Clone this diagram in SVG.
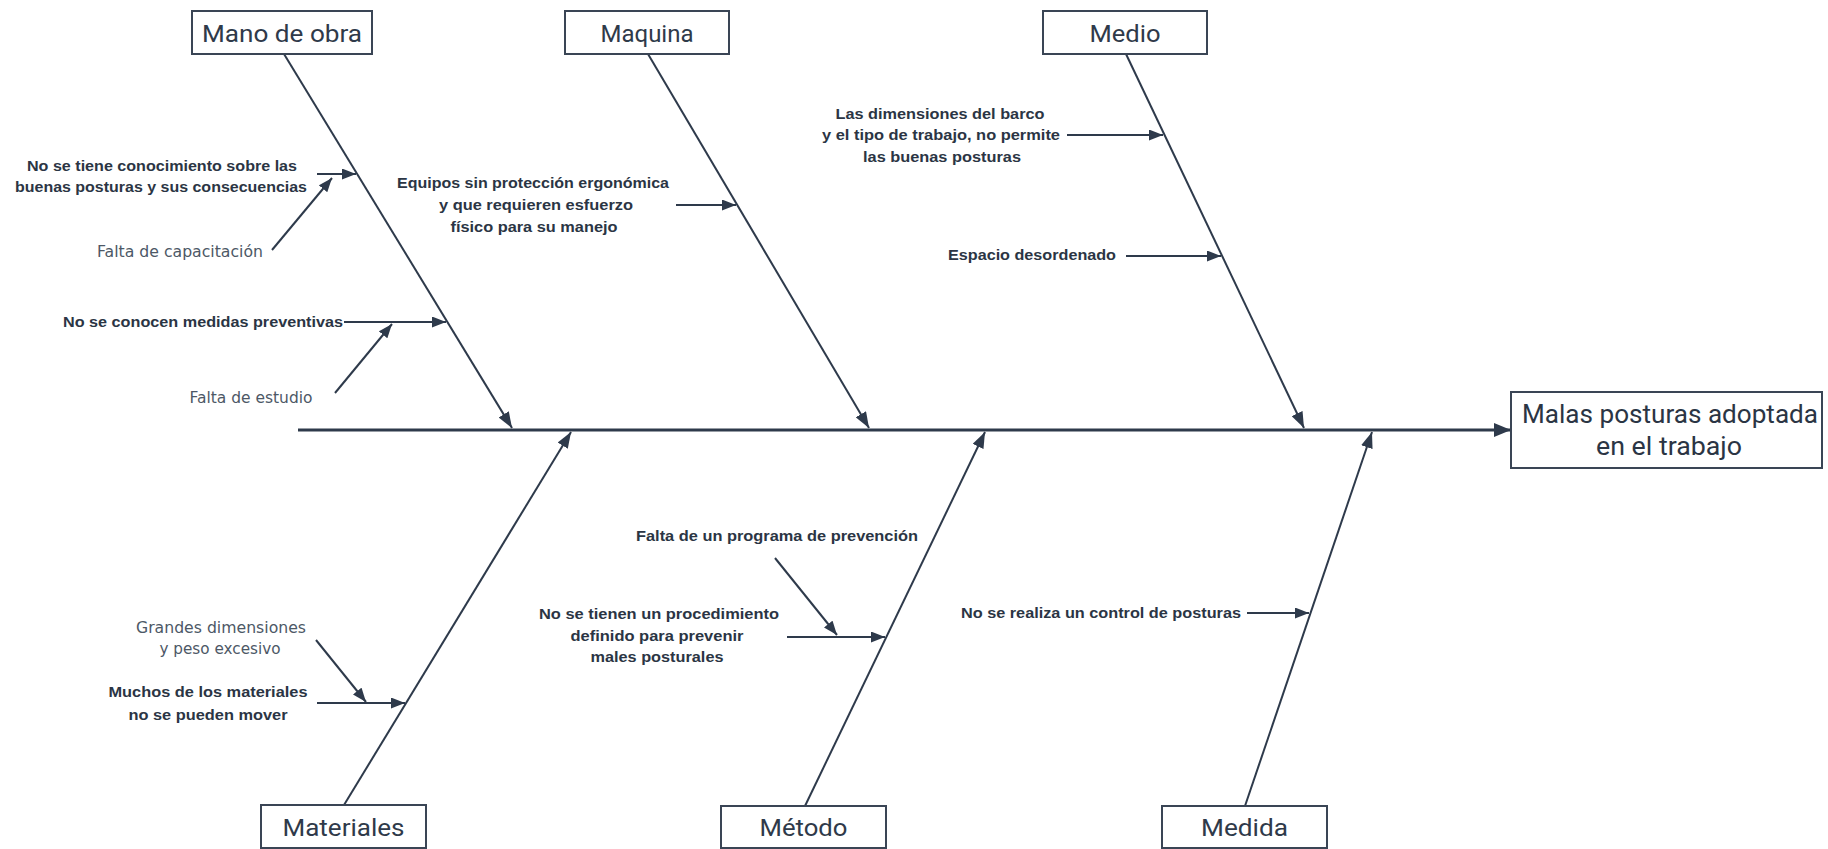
<svg xmlns="http://www.w3.org/2000/svg" width="1828" height="849" viewBox="0 0 1828 849">
  <defs>
    <marker id="headBig" markerUnits="userSpaceOnUse" markerWidth="17" markerHeight="14" viewBox="0 0 17 14" refX="17" refY="7" orient="auto">
      <path d="M0,0 L17,7 L0,14 z" fill="#2e3a4b"/>
    </marker>
    <marker id="headMid" markerUnits="userSpaceOnUse" markerWidth="16" markerHeight="12" viewBox="0 0 16 12" refX="16" refY="6" orient="auto">
      <path d="M0,0 L16,6 L0,12 z" fill="#2e3a4b"/>
    </marker>
    <marker id="headSmall" markerUnits="userSpaceOnUse" markerWidth="14" markerHeight="11" viewBox="0 0 14 11" refX="14" refY="5.5" orient="auto">
      <path d="M0,0 L14,5.5 L0,11 z" fill="#2e3a4b"/>
    </marker>
  </defs>
  <style>
    .box { fill: #ffffff; stroke: #3a4555; stroke-width: 2; }
    .title { font-family: Roboto, "Liberation Sans", sans-serif; font-size: 24px; fill: #2f3a4a; text-anchor: middle; }
    .effect { font-family: Roboto, "Liberation Sans", sans-serif; font-size: 25px; fill: #2b3544; text-anchor: middle; }
    .cause { font-family: "Liberation Sans", Arial, sans-serif; font-size: 15px; font-weight: bold; fill: #2b3544; text-anchor: middle; }
    .sub { font-family: "DejaVu Sans", "Liberation Sans", sans-serif; font-size: 15px; fill: #4d5866; text-anchor: middle; }
    .spine { stroke: #2e3a4b; stroke-width: 3; fill: none; }
    .bone { stroke: #2e3a4b; stroke-width: 2; fill: none; }
    .twig { stroke: #2e3a4b; stroke-width: 2; fill: none; }
  </style>

  <rect width="1828" height="849" fill="#ffffff"/>

  <!-- connectors: spine, category bones and cause arrows -->
  <g id="connectors">
    <line class="spine" x1="298" y1="430" x2="1511" y2="430" marker-end="url(#headBig)"/>

    <line class="bone" x1="284" y1="54" x2="512" y2="428" marker-end="url(#headMid)"/>
    <line class="bone" x1="648" y1="54" x2="869" y2="428" marker-end="url(#headMid)"/>
    <line class="bone" x1="1126" y1="54" x2="1304" y2="428" marker-end="url(#headMid)"/>
    <line class="bone" x1="344" y1="805" x2="571" y2="432" marker-end="url(#headMid)"/>
    <line class="bone" x1="805" y1="806" x2="985" y2="432" marker-end="url(#headMid)"/>
    <line class="bone" x1="1245" y1="806" x2="1372" y2="432" marker-end="url(#headMid)"/>

    <line class="twig" x1="317" y1="174" x2="356" y2="174" marker-end="url(#headSmall)"/>
    <line class="twig" x1="272" y1="250" x2="332" y2="178" marker-end="url(#headSmall)"/>
    <line class="twig" x1="344" y1="322" x2="446" y2="322" marker-end="url(#headSmall)"/>
    <line class="twig" x1="335" y1="393" x2="392" y2="324" marker-end="url(#headSmall)"/>

    <line class="twig" x1="676" y1="205" x2="736" y2="205" marker-end="url(#headSmall)"/>

    <line class="twig" x1="1067" y1="135" x2="1163" y2="135" marker-end="url(#headSmall)"/>
    <line class="twig" x1="1126" y1="256" x2="1221" y2="256" marker-end="url(#headSmall)"/>

    <line class="twig" x1="317" y1="703" x2="405" y2="703" marker-end="url(#headSmall)"/>
    <line class="twig" x1="316" y1="640" x2="366" y2="702" marker-end="url(#headSmall)"/>

    <line class="twig" x1="787" y1="637" x2="885" y2="637" marker-end="url(#headSmall)"/>
    <line class="twig" x1="775" y1="558" x2="837" y2="635" marker-end="url(#headSmall)"/>

    <line class="twig" x1="1247" y1="613" x2="1309" y2="613" marker-end="url(#headSmall)"/>
  </g>

  <!-- effect -->
  <g id="effect">
    <rect class="box" x="1511" y="392" width="311" height="76"/>
    <text class="effect" x="1670" y="423" textLength="296" lengthAdjust="spacingAndGlyphs">Malas posturas adoptada</text>
    <text class="effect" x="1669" y="455" textLength="146" lengthAdjust="spacingAndGlyphs">en el trabajo</text>
  </g>

  <!-- category headers -->
  <g id="cat-mano-de-obra">
    <rect class="box" x="192" y="11" width="180" height="43"/>
    <text class="title" x="282" y="42" textLength="160" lengthAdjust="spacingAndGlyphs">Mano de obra</text>
  </g>
  <g id="cat-maquina">
    <rect class="box" x="565" y="11" width="164" height="43"/>
    <text class="title" x="647" y="42">Maquina</text>
  </g>
  <g id="cat-medio">
    <rect class="box" x="1043" y="11" width="164" height="43"/>
    <text class="title" x="1125" y="42" textLength="71" lengthAdjust="spacingAndGlyphs">Medio</text>
  </g>
  <g id="cat-materiales">
    <rect class="box" x="261" y="805" width="165" height="43"/>
    <text class="title" x="343.5" y="836" textLength="122" lengthAdjust="spacingAndGlyphs">Materiales</text>
  </g>
  <g id="cat-metodo">
    <rect class="box" x="721" y="806" width="165" height="42"/>
    <text class="title" x="803.5" y="836" textLength="88" lengthAdjust="spacingAndGlyphs">Método</text>
  </g>
  <g id="cat-medida">
    <rect class="box" x="1162" y="806" width="165" height="42"/>
    <text class="title" x="1244.5" y="836" textLength="87" lengthAdjust="spacingAndGlyphs">Medida</text>
  </g>

  <!-- causes: Mano de obra -->
  <g id="cause-conocimiento">
    <text class="cause" x="162" y="171" textLength="270" lengthAdjust="spacingAndGlyphs">No se tiene conocimiento sobre las</text>
    <text class="cause" x="161" y="192" textLength="292" lengthAdjust="spacingAndGlyphs">buenas posturas y sus consecuencias</text>
  </g>
  <g id="cause-capacitacion">
    <text class="sub" x="180" y="257" textLength="166" lengthAdjust="spacingAndGlyphs">Falta de capacitación</text>
  </g>
  <g id="cause-medidas">
    <text class="cause" x="203" y="327" textLength="280" lengthAdjust="spacingAndGlyphs">No se conocen medidas preventivas</text>
  </g>
  <g id="cause-estudio">
    <text class="sub" x="251" y="403" textLength="123" lengthAdjust="spacingAndGlyphs">Falta de estudio</text>
  </g>

  <!-- causes: Maquina -->
  <g id="cause-equipos">
    <text class="cause" x="533" y="188" textLength="272" lengthAdjust="spacingAndGlyphs">Equipos sin protección ergonómica</text>
    <text class="cause" x="536" y="210" textLength="194" lengthAdjust="spacingAndGlyphs">y que requieren esfuerzo</text>
    <text class="cause" x="534" y="232" textLength="167" lengthAdjust="spacingAndGlyphs">físico para su manejo</text>
  </g>

  <!-- causes: Medio -->
  <g id="cause-dimensiones-barco">
    <text class="cause" x="940" y="119" textLength="209" lengthAdjust="spacingAndGlyphs">Las dimensiones del barco</text>
    <text class="cause" x="941" y="140" textLength="238" lengthAdjust="spacingAndGlyphs">y el tipo de trabajo, no permite</text>
    <text class="cause" x="942" y="162" textLength="158" lengthAdjust="spacingAndGlyphs">las buenas posturas</text>
  </g>
  <g id="cause-espacio">
    <text class="cause" x="1032" y="260" textLength="168" lengthAdjust="spacingAndGlyphs">Espacio desordenado</text>
  </g>

  <!-- causes: Materiales -->
  <g id="cause-grandes">
    <text class="sub" x="221" y="633" textLength="170" lengthAdjust="spacingAndGlyphs">Grandes dimensiones</text>
    <text class="sub" x="220" y="654" textLength="121" lengthAdjust="spacingAndGlyphs">y peso excesivo</text>
  </g>
  <g id="cause-mover">
    <text class="cause" x="208" y="697" textLength="199" lengthAdjust="spacingAndGlyphs">Muchos de los materiales</text>
    <text class="cause" x="208" y="720" textLength="159" lengthAdjust="spacingAndGlyphs">no se pueden mover</text>
  </g>

  <!-- causes: Método -->
  <g id="cause-programa">
    <text class="cause" x="777" y="541" textLength="282" lengthAdjust="spacingAndGlyphs">Falta de un programa de prevención</text>
  </g>
  <g id="cause-procedimiento">
    <text class="cause" x="659" y="619" textLength="240" lengthAdjust="spacingAndGlyphs">No se tienen un procedimiento</text>
    <text class="cause" x="657" y="641" textLength="173" lengthAdjust="spacingAndGlyphs">definido para prevenir</text>
    <text class="cause" x="657" y="662" textLength="133" lengthAdjust="spacingAndGlyphs">males posturales</text>
  </g>

  <!-- causes: Medida -->
  <g id="cause-control">
    <text class="cause" x="1101" y="618" textLength="280" lengthAdjust="spacingAndGlyphs">No se realiza un control de posturas</text>
  </g>
</svg>
